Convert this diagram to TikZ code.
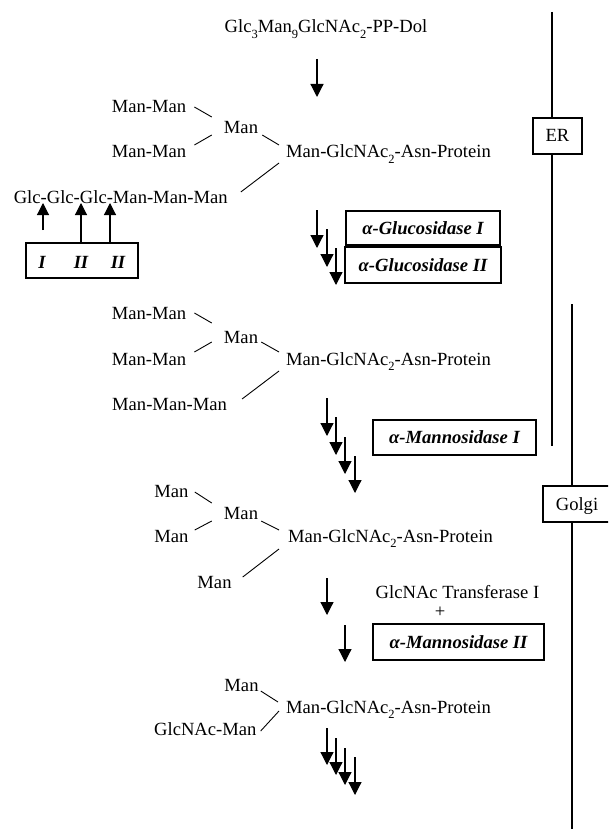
\documentclass[tikz,border=0pt]{standalone}
\usepackage{fontspec}
\setmainfont{Liberation Serif}
\usetikzlibrary{arrows.meta}
\newcommand{\sbs}[1]{\raisebox{-0.28em}{\fontsize{12.5}{12.5}\selectfont #1}}
\begin{document}
\begin{tikzpicture}[x=1pt,y=-1pt,
  txt/.style={inner sep=0pt, text height=12pt, text depth=0pt, font=\fontsize{18.6}{21}\selectfont},
  enz/.style={draw, line width=1.1pt, inner sep=0pt, text height=12pt, text depth=0pt, font=\fontsize{18.6}{21}\selectfont\bfseries\itshape},
  lbl/.style={inner sep=0pt, text height=12pt, text depth=0pt, font=\fontsize{18.6}{21}\selectfont\bfseries\itshape},
  cbox/.style={draw, line width=1.1pt, inner sep=0pt, text height=12pt, text depth=0pt, font=\fontsize{18.6}{21}\selectfont},
  bond/.style={line width=0.9pt},
  rxn/.style={line width=1.2pt, -{Triangle[width=13pt,length=13pt]}},
  upa/.style={line width=1.1pt, -{Triangle[width=12pt,length=12pt]}},
  comp/.style={line width=1.3pt}]
\useasboundingbox (0,0) rectangle (608,829);
\clip (0,0) rectangle (608,829);
\fill[white] (0,0) rectangle (608,829);

% compartments
\node[cbox, minimum width=49pt, minimum height=36pt] (er) at (557.5,136) {ER};
\coordinate (ertop) at (552,12);
\coordinate (erbot) at (552,446);
\draw[comp] (ertop) -- (ertop |- er.north);
\draw[comp] (ertop |- er.south) -- (erbot);
\node[cbox, minimum width=68pt, minimum height=36pt] (golgi) at (577,504) {Golgi};
\coordinate (gtop) at (572,304);
\coordinate (gbot) at (572,829);
\draw[comp] (gtop) -- (gtop |- golgi.north);
\draw[comp] (gtop |- golgi.south) -- (gbot);

% title
\node[txt] (title) at (326,27) {Glc\sbs{3}Man\sbs{9}GlcNAc\sbs{2}-PP-Dol};
\coordinate (a0s) at (317,59); \coordinate (a0e) at (317,97);
\draw[rxn] (a0s) -- (a0e);

% structure 1
\node[txt] (mm1) at (149,107) {Man-Man};
\node[txt] (man1) at (241,128) {Man};
\node[txt] (mm2) at (149,152) {Man-Man};
\node[txt, anchor=west] (prot1) at (286,152) {Man-GlcNAc\sbs{2}-Asn-Protein};
\node[txt, anchor=west] (glc) at (13.6,197) {Glc-Glc-Glc-Man-Man-Man};
\draw[bond] ([shift={(8,0)}]mm1.east) -- ([shift={(-12,-11)}]man1.west);
\draw[bond] ([shift={(8,-7)}]mm2.east) -- ([shift={(-12,7)}]man1.west);
\draw[bond] ([shift={(4,7)}]man1.east) -- ([shift={(-7,-7)}]prot1.west);
\draw[bond] ([shift={(13,-5)}]glc.east) -- ([shift={(-7,11)}]prot1.west);

% glucosidase sites
\node[draw, line width=1.1pt, minimum width=112pt, minimum height=35pt, inner sep=0pt] (ibox) at (82,260.5) {};
\node[lbl] (l1) at (42,262) {I};
\node[lbl] (l2) at (81,262) {II};
\node[lbl] (l3) at (118,262) {II};
\coordinate (u1s) at (43,230); \coordinate (u1t) at (43,203);
\coordinate (u2t) at (81,203); \coordinate (u3t) at (110,203);
\draw[upa] (u1s) -- (u1t);
\draw[upa] (ibox.north -| u2t) -- (u2t);
\draw[upa] (ibox.north -| u3t) -- (u3t);

% glucosidase arrows and boxes
\coordinate (g1s) at (317,210); \coordinate (g1e) at (317,248);
\coordinate (g2s) at (327,229); \coordinate (g2e) at (327,267);
\coordinate (g3s) at (336,248); \coordinate (g3e) at (336,285);
\draw[rxn] (g1s) -- (g1e);
\draw[rxn] (g2s) -- (g2e);
\draw[rxn] (g3s) -- (g3e);
\node[enz, minimum width=154pt, minimum height=34pt] (gluI) at (423,228) {α-Glucosidase I};
\node[enz, minimum width=156pt, minimum height=36pt] (gluII) at (423,265) {α-Glucosidase II};

% structure 2
\node[txt] (mm3) at (149,313) {Man-Man};
\node[txt] (man2) at (241,337) {Man};
\node[txt] (mm4) at (149,359) {Man-Man};
\node[txt, anchor=west] (prot2) at (286,359) {Man-GlcNAc\sbs{2}-Asn-Protein};
\node[txt, anchor=west] (mmm) at (112,404) {Man-Man-Man};
\draw[bond] ([shift={(8,0)}]mm3.east) -- ([shift={(-12,-14)}]man2.west);
\draw[bond] ([shift={(8,-7)}]mm4.east) -- ([shift={(-12,5)}]man2.west);
\draw[bond] ([shift={(3,5)}]man2.east) -- ([shift={(-7,-7)}]prot2.west);
\draw[bond] ([shift={(15,-5)}]mmm.east) -- ([shift={(-7,12)}]prot2.west);

% mannosidase I
\coordinate (m1s) at (327,398); \coordinate (m1e) at (327,436);
\coordinate (m2s) at (336,417); \coordinate (m2e) at (336,455);
\coordinate (m3s) at (345,437); \coordinate (m3e) at (345,474);
\coordinate (m4s) at (355,456); \coordinate (m4e) at (355,493);
\draw[rxn] (m1s) -- (m1e);
\draw[rxn] (m2s) -- (m2e);
\draw[rxn] (m3s) -- (m3e);
\draw[rxn] (m4s) -- (m4e);
\node[enz, minimum width=163pt, minimum height=35pt] (manI) at (454.5,437.5) {α-Mannosidase I};

% structure 3
\node[txt] (manA) at (171.5,491) {Man};
\node[txt] (man3) at (241,513) {Man};
\node[txt] (manB) at (171.5,536) {Man};
\node[txt, anchor=west] (prot3) at (288,536) {Man-GlcNAc\sbs{2}-Asn-Protein};
\node[txt] (manC) at (214.5,582) {Man};
\draw[bond] ([shift={(6,1)}]manA.east) -- ([shift={(-12,-10)}]man3.west);
\draw[bond] ([shift={(6,-6)}]manB.east) -- ([shift={(-12,8)}]man3.west);
\draw[bond] ([shift={(3,8)}]man3.east) -- ([shift={(-9,-6)}]prot3.west);
\draw[bond] ([shift={(11,-5)}]manC.east) -- ([shift={(-9,13)}]prot3.west);

% GlcNAc transferase + mannosidase II
\coordinate (n1s) at (327,578); \coordinate (n1e) at (327,615);
\coordinate (n2s) at (345,625); \coordinate (n2e) at (345,662);
\draw[rxn] (n1s) -- (n1e);
\draw[rxn] (n2s) -- (n2e);
\node[txt] (gnt) at (457.5,592) {GlcNAc Transferase I};
\node[txt] (plus) at (440,611) {+};
\node[enz, minimum width=171pt, minimum height=36pt] (manII) at (458.5,642) {α-Mannosidase II};

% structure 4
\node[txt] (manD) at (241.5,685) {Man};
\node[txt, anchor=west] (prot4) at (286,707) {Man-GlcNAc\sbs{2}-Asn-Protein};
\node[txt, anchor=west] (gnm) at (154,729) {GlcNAc-Man};
\draw[bond] ([shift={(2,6)}]manD.east) -- ([shift={(-8,-5)}]prot4.west);
\draw[bond] ([shift={(-7,4)}]prot4.west) -- ([shift={(4,2)}]gnm.east);

% final arrows
\coordinate (f1s) at (327,728); \coordinate (f1e) at (327,765);
\coordinate (f2s) at (336,738); \coordinate (f2e) at (336,775);
\coordinate (f3s) at (345,748); \coordinate (f3e) at (345,785);
\coordinate (f4s) at (355,757); \coordinate (f4e) at (355,795);
\draw[rxn] (f1s) -- (f1e);
\draw[rxn] (f2s) -- (f2e);
\draw[rxn] (f3s) -- (f3e);
\draw[rxn] (f4s) -- (f4e);
\end{tikzpicture}
\end{document}
